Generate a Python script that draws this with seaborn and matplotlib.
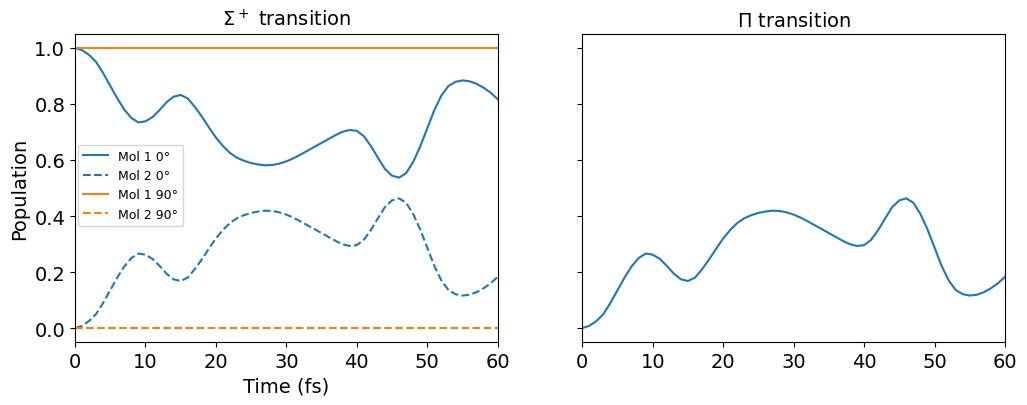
import numpy as np
import pandas as pd
import seaborn as sns
import matplotlib.pyplot as plt

# time axis (fs) and population
time_fs = list(range(0, 61))
mol2_0deg = [0.000, 0.008, 0.025, 0.050, 0.090, 0.135, 0.180, 0.220, 0.250, 0.266,
             0.262, 0.247, 0.222, 0.194, 0.174, 0.168, 0.180, 0.210, 0.245, 0.283,
             0.320, 0.350, 0.375, 0.392, 0.403, 0.411, 0.416, 0.419, 0.418, 0.413,
             0.405, 0.394, 0.381, 0.367, 0.353, 0.339, 0.325, 0.311, 0.299, 0.293,
             0.296, 0.315, 0.350, 0.392, 0.432, 0.456, 0.463, 0.447, 0.407, 0.352,
             0.287, 0.222, 0.170, 0.136, 0.121, 0.116, 0.119, 0.128, 0.142, 0.160,
             0.183]
mol1_0deg = [1 - v for v in mol2_0deg]
mol1_90deg = [1.0] * len(time_fs)
mol2_90deg = [0.0] * len(time_fs)
pi_pop = list(mol2_0deg)

labels = ["Mol 1 0°", "Mol 2 0°", "Mol 1 90°", "Mol 2 90°"]
series = [mol1_0deg, mol2_0deg, mol1_90deg, mol2_90deg]

df = pd.concat([pd.DataFrame({"t": time_fs, "pop": s, "curve": lab})
                for lab, s in zip(labels, series)], ignore_index=True)
df_pi = pd.DataFrame({"t": time_fs, "pop": pi_pop})

# plain matplotlib look (black spines, no grid)
plt.rcParams["font.family"] = ["DejaVu Sans"]

fig, (ax1, ax2) = plt.subplots(1, 2, sharey=True, figsize=(10.27, 4.06), dpi=100)
fig.subplots_adjust(left=0.073, right=0.9786, bottom=0.155, top=0.914, wspace=0.2)

pal = {"Mol 1 0°": "#1f77b4", "Mol 2 0°": "#1f77b4",
       "Mol 1 90°": "#ff7f0e", "Mol 2 90°": "#ff7f0e"}
dash = {"Mol 1 0°": "", "Mol 2 0°": (3.7, 1.6),
        "Mol 1 90°": "", "Mol 2 90°": (3.7, 1.6)}
sns.lineplot(data=df, x="t", y="pop", hue="curve", style="curve",
             palette=pal, dashes=dash, hue_order=labels, style_order=labels,
             linewidth=1.5, ax=ax1)
sns.lineplot(data=df_pi, x="t", y="pop", color="#1f77b4", linewidth=1.5, ax=ax2)

for ax in (ax1, ax2):
    ax.set_xlim(0, 60)
    ax.set_ylim(-0.05, 1.05)
    ax.tick_params(labelsize=14)
    ax.set_xlabel("")
    ax.set_ylabel("")

ax1.set_xlabel("Time (fs)", fontsize=14)
ax1.set_ylabel("Population", fontsize=14)
ax1.set_title(r"$\Sigma^+$ transition", fontsize=14)
ax2.set_title(r"$\Pi$ transition", fontsize=14)

ax1.legend(loc="upper left", bbox_to_anchor=(0.008, 0.64), borderaxespad=0,
           fontsize=9)

fig.savefig("out.png", dpi=100)
